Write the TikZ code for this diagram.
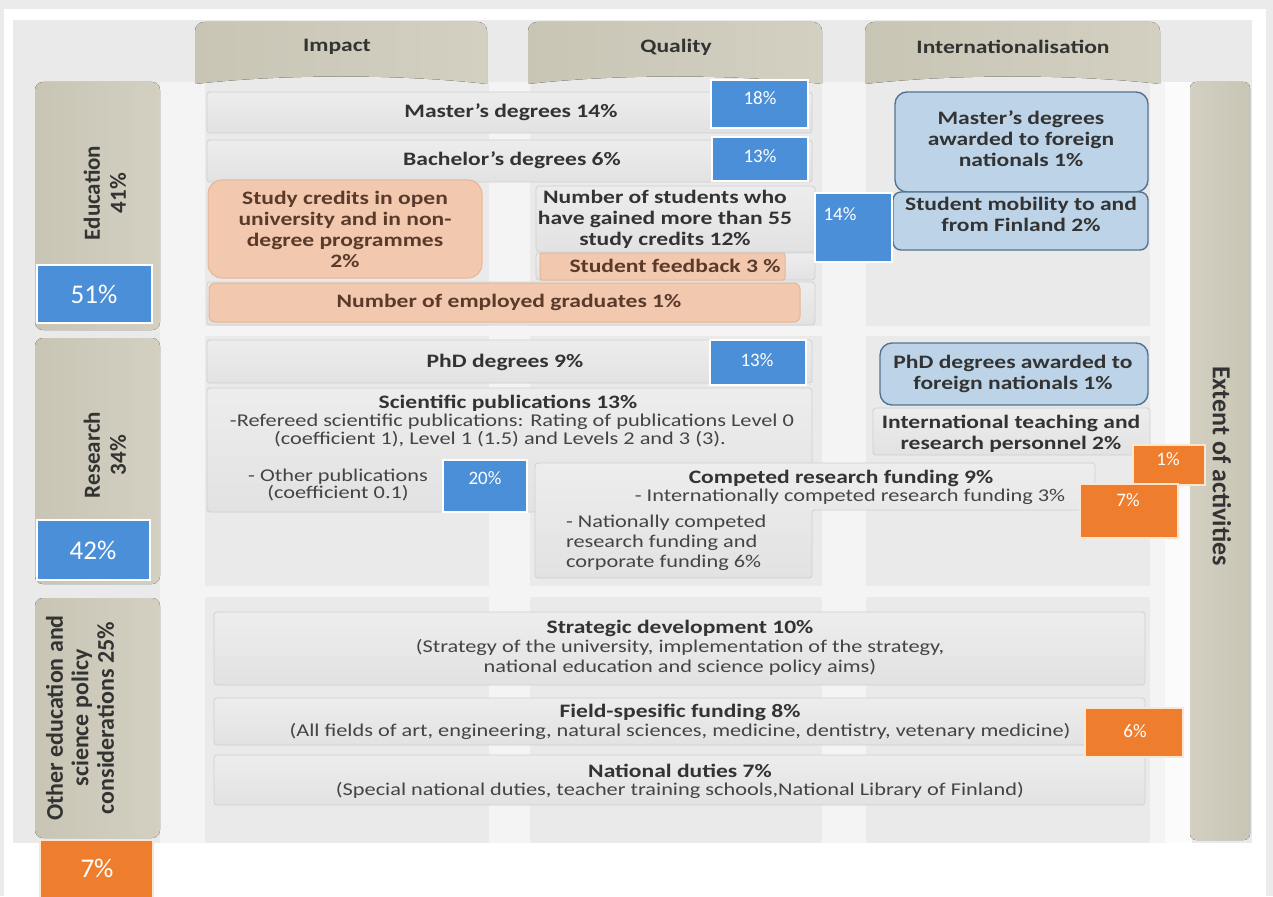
\documentclass[tikz,border=0pt]{standalone}
\usepackage{fontspec}
\setmainfont{Carlito}[FakeStretch=1.24]
\newfontfamily\pctfont{Carlito}
\usetikzlibrary{fit}

\definecolor{outerbg}{HTML}{EBEBEB}
\definecolor{panelbg}{HTML}{EAEAEA}
\definecolor{stripe}{HTML}{F4F4F4}
\definecolor{tan}{HTML}{C8C5B5}
\definecolor{tanlight}{HTML}{D3D0C2}
\definecolor{boxtop}{HTML}{EDEDED}
\definecolor{boxbot}{HTML}{E2E2E2}
\definecolor{boxedge}{HTML}{D0D0D0}
\definecolor{salmon}{HTML}{F2C8AF}
\definecolor{salmonedge}{HTML}{E6B595}
\definecolor{salmontext}{HTML}{5A3A2A}
\definecolor{paleblue}{HTML}{BDD4E8}
\definecolor{paleblueedge}{HTML}{55738F}
\definecolor{pctblue}{HTML}{4A8FD8}
\definecolor{pctorange}{HTML}{EE7E2D}
\definecolor{orangeedge}{HTML}{FDE6D0}
\definecolor{ink}{HTML}{333333}
\definecolor{inksoft}{HTML}{444444}

\tikzset{
  every node/.style={inner sep=0pt, outer sep=0pt},
  gbox/.style={draw=boxedge, line width=0.8pt, rounded corners=3pt, top color=boxtop, bottom color=boxbot},
  sbox/.style={draw=salmonedge, line width=1pt, fill=salmon, rounded corners=4pt},
  bbox/.style={draw=paleblueedge, line width=1.4pt, fill=paleblue, rounded corners=12pt},
  pblue/.style={draw=white, line width=2pt, fill=pctblue},
  porange/.style={draw=orangeedge, line width=2pt, fill=pctorange},
  tabfill/.style={left color=tan, right color=tanlight},
  tb/.style={font=\fontsize{19}{21}\selectfont\bfseries, text=ink, align=center},
  tbs/.style={tb, text=salmontext},
  tr/.style={font=\fontsize{18}{19.5}\selectfont, text=inksoft, align=center},
  tp/.style={font=\pctfont\fontsize{19}{21}\selectfont, text=white},
  tpl/.style={font=\pctfont\fontsize{27}{29}\selectfont, text=white},
  side/.style={font=\pctfont\bfseries\fontsize{23}{26}\selectfont, text=ink, align=center},
}

\begin{document}
\begin{tikzpicture}[x=1pt,y=-1pt]
\useasboundingbox (0,0) rectangle (1273,896);

% page and panel background
\fill[outerbg] (0,0) rectangle (1273,896);
\fill[white] (4,9) rectangle (1266,896);
\fill[panelbg] (13,20) rectangle (1252,843);
\fill[stripe] (160,82) rectangle (205,843);
\fill[stripe] (489,82) rectangle (530,843);
\fill[stripe] (822,82) rectangle (866,843);
\fill[stripe] (1150,82) rectangle (1192,843);
\fill[stripe] (160,326) rectangle (1192,336);
\fill[stripe] (160,586) rectangle (1192,597);

% column heads
\fill[tabfill] (195,84) [rounded corners=9pt] -- (195,22) -- (487,22) [sharp corners] -- (487,84) .. controls (400,74) and (282,74) .. (195,84) -- cycle;
\fill[tabfill] (528,84) [rounded corners=9pt] -- (528,22) -- (822,22) [sharp corners] -- (822,84) .. controls (735,74) and (615,74) .. (528,84) -- cycle;
\fill[tabfill] (865,84) [rounded corners=9pt] -- (865,22) -- (1160,22) [sharp corners] -- (1160,84) .. controls (1072,74) and (953,74) .. (865,84) -- cycle;
\node[tb] (hImpact) at (337,47) {Impact};
\node[tb] (hQuality) at (676,47) {Quality};
\node[tb] (hIntl) at (1013,47) {Internationalisation};

% row heads
\fill[tabfill, rounded corners=8pt] (35,82) rectangle (160,330);
\fill[tabfill, rounded corners=8pt] (35,338) rectangle (160,584);
\fill[tabfill, rounded corners=8pt] (35,598) rectangle (160,838);
\node[side, rotate=90] (rEdu) at (105,193) {Education\\41\%};
\node[side, rotate=90] (rRes) at (105,455) {Research\\34\%};
\node[side, rotate=90, font=\pctfont\bfseries\fontsize{24}{25.5}\selectfont] (rOther) at (80,718) {Other education and\\science policy\\considerations 25\%};

% extent bar
\fill[white!60!stripe] (1165,82) rectangle (1192,843);
\fill[left color=tanlight, right color=tan, rounded corners=6pt] (1190,82) rectangle (1250,840);
\node[font=\pctfont\bfseries\fontsize{26}{28}\selectfont, text=ink, rotate=-90] (extent) at (1222,466) {Extent of activities};

% ---------- Education ----------
\node[gbox, fit={(207,92) (812,133)}] (mast) {};
\node[tb] (mastT) at (511,112) {Master’s degrees 14\%};
\node[gbox, fit={(207,140) (812,182)}] (bach) {};
\node[tb] (bachT) at (512,160) {Bachelor’s degrees 6\%};

\node[gbox, fit={(536,186) (815,252)}] (stud) {};
\node[tb] (studT) at (665,219) {Number of students who\\have gained more than 55\\study credits 12\%};

\node[gbox, fit={(536,253) (815,280)}] (fbBack) {};
\node[sbox, rounded corners=2pt, fit={(540,253) (785,280)}] (fb) {};
\node[tbs] (fbT) at (675,266) {Student feedback 3 \%};

\node[gbox, fit={(207,282) (815,325)}] (empBack) {};
\node[sbox, rounded corners=6pt, fit={(209,283) (800,322)}] (emp) {};
\node[tbs] (empT) at (509,302) {Number of employed graduates 1\%};

\node[sbox, rounded corners=14pt, fit={(208,180) (482,278)}] (open) {};
\node[tbs] (openT) at (345,229) {Study credits in open\\university and in non-\\degree programmes\\2\%};

\node[bbox, fit={(895,92) (1148,192)}] (mfor) {};
\node[tb] (mforT) at (1021,139) {Master’s degrees\\awarded to foreign\\nationals 1\%};
\node[bbox, rounded corners=8pt, fit={(893,192) (1148,250)}] (mob) {};
\node[tb] (mobT) at (1021,214) {Student mobility to and\\from Finland 2\%};

% ---------- Research ----------
\node[gbox, fit={(207,340) (812,383)}] (phd) {};
\node[tb] (phdT) at (505,362) {PhD degrees 9\%};

\node[gbox, fit={(207,388) (812,512)}] (pub) {};
\node[tb] (pubT) at (508,403) {Scientific publications 13\%};
\node[tr] (pubA) at (512,422) {-Refereed scientific publications: Rating of publications Level 0};
\node[tr] (pubB) at (500,439) {(coefficient 1), Level 1 (1.5) and Levels 2 and 3 (3).};
\node[tr, font=\fontsize{18}{17}\selectfont] (pubC) at (338,485) {- Other publications\\(coefficient 0.1)};

\path[gbox] (535,463) -- (1095,463) -- (1095,510) -- (812,510) -- (812,578) -- (535,578) -- cycle;
\node[tb] (compT) at (841,478) {Competed research funding 9\%};
\node[tr] (compA) at (850,497) {- Internationally competed research funding 3\%};
\node[tr, align=left, anchor=west, font=\fontsize{18}{20}\selectfont] (compB) at (566,543) {- Nationally competed\\research funding and\\corporate funding 6\%};

\node[bbox, fit={(880,343) (1148,405)}] (phdf) {};
\node[tb] (phdfT) at (1013,374) {PhD degrees awarded to\\foreign nationals 1\%};
\node[gbox, fit={(873,408) (1150,455)}] (itrp) {};
\node[tb] (itrpT) at (1011,434) {International teaching and\\research personnel 2\%};

% ---------- Other considerations ----------
\node[gbox, fit={(214,612) (1145,685)}] (strat) {};
\node[tb] (stratT) at (680,628) {Strategic development 10\%};
\node[tr] (stratA) at (680,657.5) {(Strategy of the university, implementation of the strategy,\\national education and science policy aims)};
\node[gbox, fit={(214,698) (1145,745)}] (field) {};
\node[tb] (fieldT) at (680,712) {Field-spesific funding 8\%};
\node[tr] (fieldA) at (680,731) {(All fields of art, engineering, natural sciences, medicine, dentistry, vetenary medicine)};
\node[gbox, fit={(214,755) (1145,805)}] (natd) {};
\node[tb] (natdT) at (680,771) {National duties 7\%};
\node[tr] (natdA) at (680,790) {(Special national duties, teacher training schools,National Library of Finland)};

% ---------- shares ----------
\node[pblue, fit={(37,265) (152,323)}] (p51) {};
\node[tpl] (p51T) at (94,294) {51\%};
\node[pblue, fit={(37,520) (150,580)}] (p42) {};
\node[tpl] (p42T) at (93,550) {42\%};
\node[porange, fit={(40,840) (153,898)}] (p7b) {};
\node[tpl] (p7bT) at (97,868) {7\%};

\node[pblue, fit={(711,80) (808,128)}] (p18) {};
\node[tp] (p18T) at (760,98) {18\%};
\node[pblue, fit={(712,137) (808,181)}] (p13a) {};
\node[tp] (p13aT) at (760,156) {13\%};
\node[pblue, fit={(815,193) (892,262)}] (p14) {};
\node[tp] (p14T) at (840,214) {14\%};
\node[pblue, fit={(710,340) (806,385)}] (p13b) {};
\node[tp] (p13bT) at (757,360) {13\%};
\node[pblue, fit={(443,460) (527,512)}] (p20) {};
\node[tp] (p20T) at (485,478) {20\%};
\node[porange, fit={(1133,445) (1205,485)}] (p1) {};
\node[tp] (p1T) at (1168,459) {1\%};
\node[porange, fit={(1080,484) (1178,538)}] (p7r) {};
\node[tp] (p7rT) at (1128,500) {7\%};
\node[porange, fit={(1085,708) (1183,757)}] (p6) {};
\node[tp] (p6T) at (1135,731) {6\%};

\end{tikzpicture}
\end{document}
